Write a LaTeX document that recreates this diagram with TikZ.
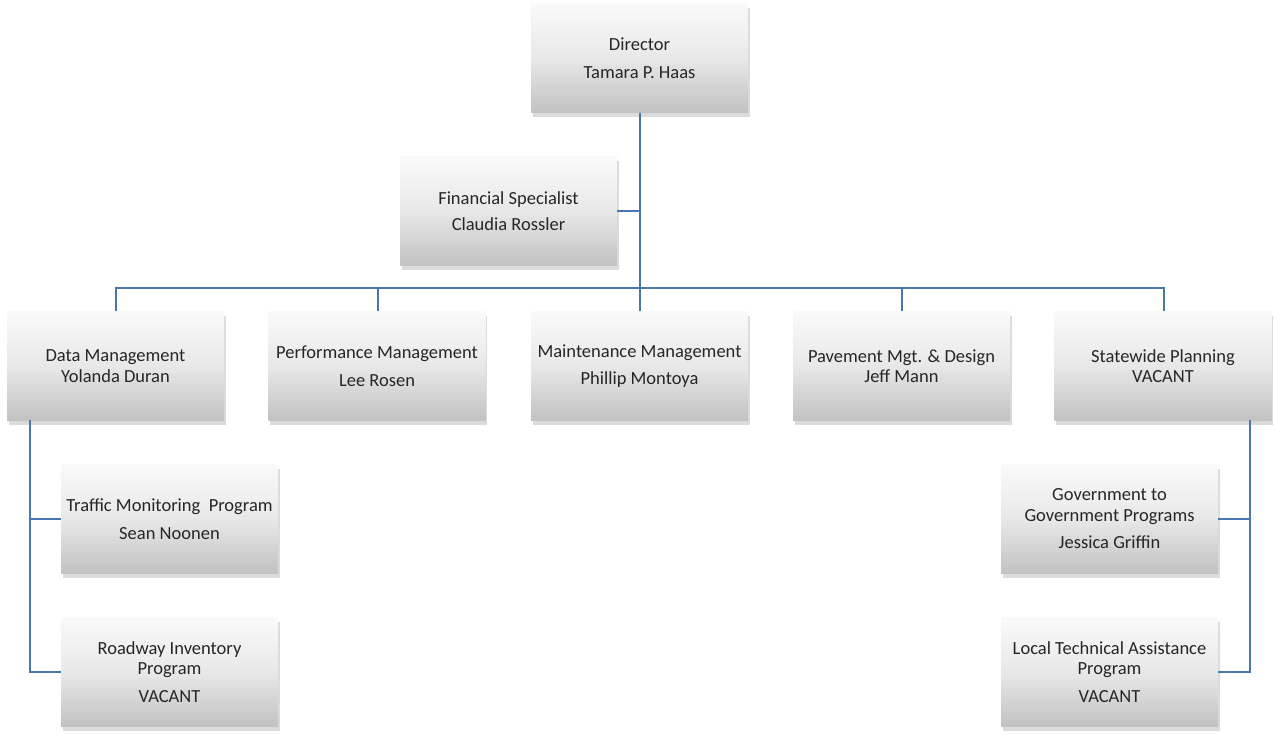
\documentclass[tikz,border=0pt]{standalone}
\usepackage{fontspec}
\setmainfont{Carlito}
\usetikzlibrary{shadows}
\definecolor{linec}{HTML}{4A76B0}
\definecolor{txt}{HTML}{262626}
\begin{document}
\begin{tikzpicture}[x=1pt,y=-1pt,
  orgbox/.style={rectangle, minimum width=217pt, minimum height=109pt, inner sep=0pt,
    top color=gray!4, bottom color=gray!48, middle color=gray!18,
    drop shadow={shadow xshift=1.5pt, shadow yshift=-4pt, opacity=0.35, fill=gray!80},
    text=txt, align=center, font=\fontsize{18.5}{20.5}\selectfont},
  conn/.style={draw=linec, line width=2pt}]
\useasboundingbox (0,0) rectangle (1276,734);
\node[orgbox] (dir) at (639.5,58) {Director\\[8pt]Tamara P. Haas};
\node[orgbox] (fin) at (508.5,211) {Financial Specialist\\[6pt]Claudia Rossler};
\node[orgbox] (dm) at (115.5,366) {Data Management\\Yolanda Duran};
\node[orgbox] (pm) at (377,366) {Performance Management\\[7pt]Lee Rosen};
\node[orgbox] (mm) at (639.5,366) {Maintenance Management\\[7pt]Phillip Montoya};
\node[orgbox] (pv) at (901.5,366) {Pavement Mgt. \& Design\\Jeff Mann};
\node[orgbox] (sw) at (1163,366) {Statewide Planning\\VACANT};
\node[orgbox] (tm) at (169.5,519) {Traffic Monitoring~ Program\\[8pt]Sean Noonen};
\node[orgbox] (ri) at (169.5,672) {Roadway Inventory\\Program\\[7pt]VACANT};
\node[orgbox] (gg) at (1109.5,519) {Government to\\Government Programs\\[7pt]Jessica Griffin};
\node[orgbox] (lt) at (1109.5,672) {Local Technical Assistance\\Program\\[7pt]VACANT};
\coordinate (bus) at (640,288);
\draw[conn] (dir.south -| bus) -- (bus);
\draw[conn] (fin.east) -- (fin.east -| bus);
\draw[conn] (116,311) |- (bus) -| (1164,311);
\draw[conn] (378,311) -- (378,288);
\draw[conn] (mm.north -| bus) -- (bus);
\draw[conn] (902,311) -- (902,288);
\coordinate (dmb) at (30,420);
\coordinate (swb) at (1250,420);
\draw[conn] (dmb) |- (ri.west);
\draw[conn] (tm.west) -- (tm.west -| dmb);
\draw[conn] (swb) |- (lt.east);
\draw[conn] (gg.east) -- (gg.east -| swb);
\end{tikzpicture}
\end{document}
